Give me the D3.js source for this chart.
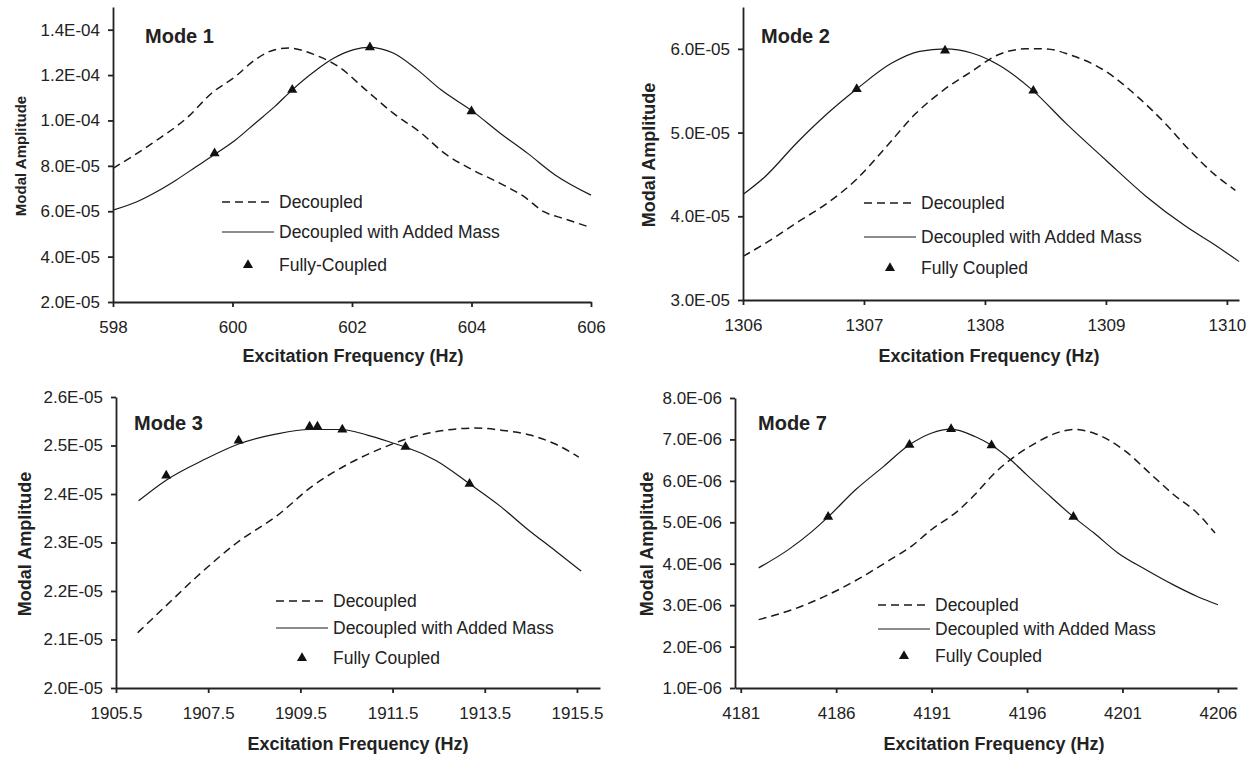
<!DOCTYPE html>
<html>
<head>
<meta charset="utf-8">
<script src="https://cdn.jsdelivr.net/npm/d3@7"></script>
<style>
  body { margin: 0; background: #fff; }
  svg { display: block; }
  text { font-family: "Liberation Sans", Arial, sans-serif; fill: #222; }
</style>
</head>
<body>
<svg width="1253" height="759"></svg>
<script>
// ---- data: [frequency Hz, modal amplitude] ----
var mode1Decoupled = [[598,7.89e-5],[598.66,9.0e-5],[599.26,1.017e-4],[599.65,1.12e-4],[600.05,1.194e-4],
  [600.38,1.268e-4],[600.71,1.312e-4],[600.94,1.319e-4],[601.37,1.29e-4],[601.77,1.238e-4],[602.23,1.135e-4],
  [602.69,1.032e-4],[603.16,9.44e-5],[603.55,8.55e-5],[604.02,7.82e-5],[604.48,7.23e-5],[604.88,6.64e-5],
  [605.21,5.98e-5],[605.54,5.68e-5],[606,5.28e-5]];
var mode1Added = [[598,6.05e-5],[598.4,6.42e-5],[598.73,6.86e-5],[599.06,7.38e-5],[599.39,7.96e-5],[599.71,8.52e-5],
  [600.05,9.14e-5],[600.38,9.88e-5],[600.71,1.062e-4],[601.0,1.135e-4],[601.37,1.216e-4],[601.7,1.275e-4],
  [602.03,1.312e-4],[602.28,1.322e-4],[602.69,1.297e-4],[603.09,1.224e-4],[603.49,1.135e-4],[604.02,1.04e-4],
  [604.48,9.44e-5],[604.94,8.55e-5],[605.4,7.6e-5],[606,6.71e-5]];
var mode1Coupled = [[599.7,8.55e-5],[601.0,1.135e-4],[602.3,1.322e-4],[604.0,1.04e-4]];

var mode2Decoupled = [[1306,3.52e-5],[1306.21,3.70e-5],[1306.44,3.92e-5],[1306.7,4.16e-5],[1306.93,4.43e-5],
  [1307.16,4.79e-5],[1307.43,5.23e-5],[1307.66,5.51e-5],[1307.89,5.73e-5],[1308.11,5.93e-5],[1308.34,6.0e-5],
  [1308.5,6.0e-5],[1308.7,5.93e-5],[1309.0,5.73e-5],[1309.26,5.43e-5],[1309.49,5.11e-5],[1309.69,4.79e-5],
  [1309.89,4.51e-5],[1310.07,4.31e-5]];
var mode2Added = [[1306,4.26e-5],[1306.18,4.47e-5],[1306.44,4.87e-5],[1306.7,5.23e-5],[1306.94,5.52e-5],
  [1307.23,5.83e-5],[1307.46,5.97e-5],[1307.67,6.0e-5],[1307.89,5.95e-5],[1308.11,5.81e-5],[1308.39,5.51e-5],
  [1308.67,5.11e-5],[1309.0,4.67e-5],[1309.33,4.24e-5],[1309.66,3.88e-5],[1309.92,3.64e-5],[1310.1,3.46e-5]];
var mode2Coupled = [[1306.94,5.52e-5],[1307.67,5.98e-5],[1308.4,5.5e-5]];

var mode3Decoupled = [[1905.97,2.114e-5],[1906.58,2.169e-5],[1907.27,2.231e-5],[1908.13,2.300e-5],[1908.99,2.355e-5],
  [1909.77,2.417e-5],[1910.54,2.462e-5],[1911.23,2.493e-5],[1911.92,2.517e-5],[1912.61,2.531e-5],[1913.3,2.536e-5],
  [1913.9,2.531e-5],[1914.51,2.521e-5],[1915.03,2.503e-5],[1915.54,2.476e-5]];
var mode3Added = [[1905.99,2.386e-5],[1906.58,2.428e-5],[1907.44,2.472e-5],[1908.16,2.503e-5],[1908.99,2.524e-5],
  [1909.7,2.533e-5],[1910.37,2.533e-5],[1910.97,2.521e-5],[1911.58,2.503e-5],[1911.78,2.497e-5],[1912.44,2.469e-5],
  [1913.17,2.421e-5],[1913.82,2.376e-5],[1914.42,2.328e-5],[1915.03,2.283e-5],[1915.59,2.241e-5]];
var mode3Coupled = [[1906.59,2.438e-5],[1908.16,2.51e-5],[1909.7,2.539e-5],[1909.87,2.539e-5],
  [1910.41,2.533e-5],[1911.78,2.497e-5],[1913.17,2.421e-5]];

var mode7Decoupled = [[4181.94,2.65e-6],[4183.7,2.89e-6],[4185.58,3.25e-6],[4187.24,3.65e-6],[4188.7,4.06e-6],
  [4189.94,4.42e-6],[4190.98,4.82e-6],[4192.44,5.30e-6],[4193.27,5.67e-6],[4194.31,6.19e-6],[4195.35,6.59e-6],
  [4196.6,6.95e-6],[4197.64,7.17e-6],[4198.47,7.24e-6],[4199.51,7.15e-6],[4201.17,6.71e-6],[4202.42,6.19e-6],
  [4203.67,5.67e-6],[4204.92,5.22e-6],[4205.85,4.74e-6]];
var mode7Added = [[4181.94,3.90e-6],[4183.5,4.34e-6],[4184.74,4.78e-6],[4185.58,5.13e-6],[4187.03,5.79e-6],
  [4188.49,6.35e-6],[4189.84,6.87e-6],[4190.98,7.15e-6],[4192.02,7.25e-6],[4193.27,7.07e-6],[4194.14,6.86e-6],
  [4195.14,6.51e-6],[4195.97,6.15e-6],[4197.01,5.71e-6],[4198.43,5.13e-6],[4199.51,4.74e-6],[4200.76,4.26e-6],
  [4202.21,3.86e-6],[4203.67,3.49e-6],[4204.92,3.21e-6],[4206.0,3.01e-6]];
var mode7Coupled = [[4185.58,5.13e-6],[4189.84,6.87e-6],[4192.02,7.25e-6],[4194.14,6.86e-6],[4198.43,5.13e-6]];

// ---- axis ticks ----
var mode1XTicks = [598, 600, 602, 604, 606];
var mode1YTicks = [2e-5, 4e-5, 6e-5, 8e-5, 1e-4, 1.2e-4, 1.4e-4];
var mode2XTicks = [1306, 1307, 1308, 1309, 1310];
var mode2YTicks = [3e-5, 4e-5, 5e-5, 6e-5];
var mode3XTicks = [1905.5, 1907.5, 1909.5, 1911.5, 1913.5, 1915.5];
var mode3YTicks = [2.0e-5, 2.1e-5, 2.2e-5, 2.3e-5, 2.4e-5, 2.5e-5, 2.6e-5];
var mode7XTicks = [4181, 4186, 4191, 4196, 4201, 4206];
var mode7YTicks = [1e-6, 2e-6, 3e-6, 4e-6, 5e-6, 6e-6, 7e-6, 8e-6];

var legendLabels = ["Decoupled", "Decoupled with Added Mass"];

var svg = d3.select("svg");

// Excel style 1.4E-04
function sci(v) {
  var e = Math.floor(Math.log10(v) + 1e-9);
  var m = v / Math.pow(10, e);
  var s = e < 0 ? "-" : "+";
  var a = Math.abs(e);
  return m.toFixed(1) + "E" + s + (a < 10 ? "0" + a : a);
}

var panels = [
  { title: "Mode 1", dec: mode1Decoupled, add: mode1Added, fc: mode1Coupled, fcLabel: "Fully-Coupled",
    xDom: [598, 606], yDom: [2e-5, 1.5e-4], xTicks: mode1XTicks, yTicks: mode1YTicks,
    left: 113, right: 591, bottom: 302, top: 7,
    titleX: 145, titleY: 43, xTitleX: 353, xTitleY: 362, yTitleX: 26, yTitleY: 156, yTitleSize: 15,
    legX: 222, legY: [202, 232, 265] },
  { title: "Mode 2", dec: mode2Decoupled, add: mode2Added, fc: mode2Coupled, fcLabel: "Fully Coupled",
    xDom: [1306, 1310.1], yDom: [3e-5, 6.5e-5], xTicks: mode2XTicks, yTicks: mode2YTicks,
    left: 743, right: 1239, bottom: 300, top: 7,
    titleX: 761, titleY: 43, xTitleX: 989, xTitleY: 362, yTitleX: 655, yTitleY: 155, yTitleSize: 18,
    legX: 864, legY: [203, 237, 268] },
  { title: "Mode 3", dec: mode3Decoupled, add: mode3Added, fc: mode3Coupled, fcLabel: "Fully Coupled",
    xDom: [1905.5, 1916], yDom: [2e-5, 2.6e-5], xTicks: mode3XTicks, yTicks: mode3YTicks,
    left: 116, right: 600, bottom: 688, top: 397,
    titleX: 134, titleY: 430, xTitleX: 358, xTitleY: 750, yTitleX: 31, yTitleY: 544, yTitleSize: 18,
    legX: 276, legY: [601, 628, 658] },
  { title: "Mode 7", dec: mode7Decoupled, add: mode7Added, fc: mode7Coupled, fcLabel: "Fully Coupled",
    xDom: [4180.7, 4207], yDom: [1e-6, 8e-6], xTicks: mode7XTicks, yTicks: mode7YTicks,
    left: 735, right: 1237, bottom: 688, top: 398,
    titleX: 758, titleY: 430, xTitleX: 994, xTitleY: 750, yTitleX: 653, yTitleY: 544, yTitleSize: 18,
    legX: 878, legY: [605, 629, 656] }
];

panels.forEach(drawPanel);

function drawPanel(p) {
  var x = d3.scaleLinear().domain(p.xDom).range([p.left, p.right]);
  var y = d3.scaleLinear().domain(p.yDom).range([p.bottom, p.top]);
  var g = svg.append("g");

  var line = d3.line()
      .x(d => x(d[0]))
      .y(d => y(d[1]))
      .curve(d3.curveMonotoneX);

  g.append("path")
      .datum(p.dec)
      .attr("fill", "none")
      .attr("stroke", "#1a1a1a")
      .attr("stroke-width", 1.5)
      .attr("stroke-dasharray", "8,5")
      .attr("d", line);

  g.append("path")
      .datum(p.add)
      .attr("fill", "none")
      .attr("stroke", "#1a1a1a")
      .attr("stroke-width", 1.2)
      .attr("d", line);

  g.selectAll(".fc")
    .data(p.fc)
    .join("path")
      .attr("class", "fc")
      .attr("fill", "#111")
      .attr("transform", d => `translate(${x(d[0])},${y(d[1])})`)
      .attr("d", d3.symbol(d3.symbolTriangle, 44));

  // axes
  var xAxis = g.append("g")
      .attr("transform", `translate(0,${p.bottom})`)
      .call(d3.axisBottom(x).tickValues(p.xTicks).tickFormat(d => String(d))
        .tickSize(5).tickSizeOuter(0).tickPadding(14));
  var yAxis = g.append("g")
      .attr("transform", `translate(${p.left},0)`)
      .call(d3.axisLeft(y).tickValues(p.yTicks).tickFormat(sci)
        .tickSize(5).tickSizeOuter(0).tickPadding(8));

  [xAxis, yAxis].forEach(function(a) {
    a.select(".domain").attr("stroke", "#222").attr("stroke-width", 1.8);
    a.selectAll(".tick line").attr("stroke", "#222").attr("stroke-width", 1.8);
    a.selectAll(".tick text")
      .attr("fill", "#222")
      .style("font-size", "17px")
      .style("font-family", '"Liberation Sans", Arial, sans-serif');
  });

  // titles
  g.append("text")
      .attr("x", p.titleX)
      .attr("y", p.titleY)
      .style("font-size", "20px")
      .style("font-weight", "bold")
      .text(p.title);

  g.append("text")
      .attr("x", p.xTitleX)
      .attr("y", p.xTitleY)
      .attr("text-anchor", "middle")
      .style("font-size", "18px")
      .style("font-weight", "bold")
      .text("Excitation Frequency (Hz)");

  g.append("text")
      .attr("transform", `translate(${p.yTitleX},${p.yTitleY}) rotate(-90)`)
      .attr("text-anchor", "middle")
      .style("font-size", p.yTitleSize + "px")
      .style("font-weight", "bold")
      .text("Modal Amplitude");

  // legend
  var lg = g.append("g");
  lg.append("line")
      .attr("x1", p.legX).attr("x2", p.legX + 52)
      .attr("y1", p.legY[0]).attr("y2", p.legY[0])
      .attr("stroke", "#1a1a1a").attr("stroke-width", 1.5)
      .attr("stroke-dasharray", "8,5");
  lg.append("line")
      .attr("x1", p.legX).attr("x2", p.legX + 52)
      .attr("y1", p.legY[1]).attr("y2", p.legY[1])
      .attr("stroke", "#1a1a1a").attr("stroke-width", 1.2);
  lg.append("path")
      .attr("fill", "#111")
      .attr("transform", `translate(${p.legX + 26},${p.legY[2]})`)
      .attr("d", d3.symbol(d3.symbolTriangle, 44));

  lg.selectAll(".lt")
    .data(legendLabels.concat([p.fcLabel]))
    .join("text")
      .attr("class", "lt")
      .attr("x", p.legX + 57)
      .attr("y", (d, i) => p.legY[i])
      .attr("dy", "0.35em")
      .style("font-size", "17.5px")
      .text(d => d);
}
</script>
</body>
</html>
